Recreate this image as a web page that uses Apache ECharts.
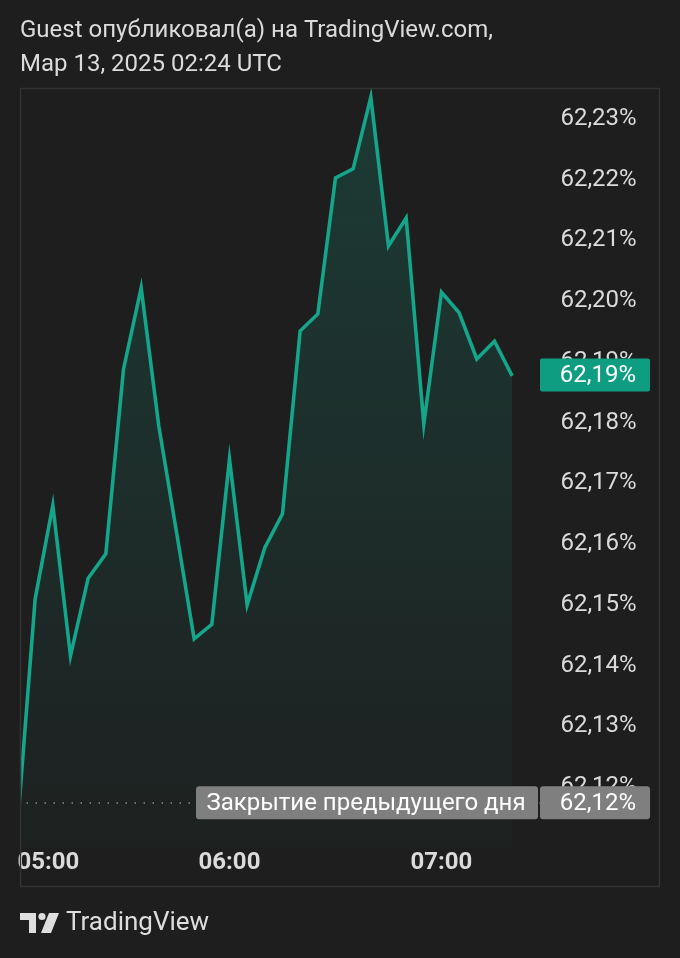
<!DOCTYPE html>
<html>
<head>
<meta charset="utf-8">
<script src="https://cdn.jsdelivr.net/npm/echarts@6/dist/echarts.min.js"></script>
<style>
html,body{margin:0;padding:0;background:#1e1e1e;}
#c{width:680px;height:958px;}
</style>
</head>
<body>
<div id="c"></div>
<script>
// minutes after 05:00 UTC
const minutes = [0,5,10,15,20,25,30,35,40,45,50,55,60,65,70,75,80,85,90,95,100,105,110,115,120,125,130,135,140];
const values = [62.1136,62.1510,62.1664,62.1416,62.1544,62.1584,62.1888,62.2022,62.1794,62.1620,62.1444,62.1468,62.1740,62.1500,62.1594,62.1650,62.1951,62.1979,62.2203,62.2218,62.2336,62.2091,62.2137,62.1798,62.2015,62.1981,62.1905,62.1934,62.1877];
const timeTicks = [0, 60, 120];
const timeLabels = ['05:00', '06:00', '07:00'];
const prevClose = 62.1174;
const prevCloseLabel = 'Закрытие предыдущего дня';
const titleLines = ['Guest опубликовал(а) на TradingView.com,', 'Мар 13, 2025 02:24 UTC'];

const BG = '#1e1e1e';
const TXT = '#dbdbdb';
const GREEN = '#14a58a';
const FONT = 'Roboto';

function fmtPct(v) { return v.toFixed(2).replace('.', ',') + '%'; }

const chart = echarts.init(document.getElementById('c'), null, {renderer: 'canvas'});
const data = minutes.map((m, i) => [m, values[i]]);

chart.setOption({
  backgroundColor: BG,
  animation: false,
  title: {
    text: titleLines.join('\n'),
    left: 20, top: 14, padding: 0,
    textStyle: {color: TXT, fontFamily: FONT, fontSize: 24, fontWeight: 'normal', lineHeight: 34}
  },
  grid: {left: 17.5, right: 139.6, top: 58.3, bottom: 110.2},
  xAxis: {
    type: 'value', min: 0, max: 148, interval: 60,
    axisLine: {show: false}, axisTick: {show: false}, splitLine: {show: false},
    axisLabel: {
      color: TXT, fontFamily: FONT, fontSize: 24, fontWeight: 'bold', margin: 3,
      alignMinLabel: 'left', showMaxLabel: false,
      formatter: v => { const i = timeTicks.indexOf(v); return i >= 0 ? timeLabels[i] : ''; }
    }
  },
  yAxis: {
    type: 'value', position: 'right', min: 62.11, max: 62.24, interval: 0.01,
    axisLine: {show: false}, axisTick: {show: false}, splitLine: {show: false},
    axisLabel: {
      color: TXT, fontFamily: FONT, fontSize: 24, margin: 20,
      formatter: v => (v < 62.115 || v > 62.235) ? '' : fmtPct(v)
    }
  },
  series: [{
    type: 'line', data: data, symbol: 'none', z: 3,
    lineStyle: {color: GREEN, width: 3.6, join: 'miter'},
    areaStyle: {
      origin: 'start',
      color: new echarts.graphic.LinearGradient(0, 0, 0, 1, [
        {offset: 0, color: 'rgba(20,165,138,0.30)'},
        {offset: 1, color: 'rgba(20,165,138,0.03)'}
      ])
    },
    markLine: {
      silent: true, symbol: 'none', label: {show: false}, precision: 4,
      lineStyle: {color: '#8a8a8a', type: [1.5, 7.5], width: 1.5},
      data: [{yAxis: prevClose}]
    }
  }]
});

const lastVal = values[values.length - 1];
const yLast = chart.convertToPixel({yAxisIndex: 0}, lastVal);
const yPrev = chart.convertToPixel({yAxisIndex: 0}, prevClose);
const bh = 33;

chart.setOption({
  graphic: [
    {type: 'rect', z: 50, shape: {x: 0, y: 88, width: 20.5, height: 760}, style: {fill: BG}},
    {type: 'rect', z: 60, shape: {x: 20.5, y: 88.5, width: 639, height: 798}, style: {fill: 'none', stroke: '#333333', lineWidth: 1.5}},
    // last value badge
    {type: 'rect', z: 70, shape: {x: 540, y: yLast - bh / 2 - 1, width: 110, height: bh, r: 2}, style: {fill: '#0f9d82'}},
    {type: 'text', z: 71, x: 636, y: yLast, style: {text: fmtPct(lastVal), fill: '#ffffff', font: '24px ' + FONT, textAlign: 'right', textVerticalAlign: 'middle'}},
    // prev close badges
    {type: 'rect', z: 70, shape: {x: 196, y: yPrev - bh / 2, width: 342, height: bh, r: 3}, style: {fill: '#7f7f7f'}},
    {type: 'text', z: 71, x: 366, y: yPrev + 1, style: {text: prevCloseLabel, fill: '#ffffff', font: '24px ' + FONT, textAlign: 'center', textVerticalAlign: 'middle'}},
    {type: 'rect', z: 70, shape: {x: 540, y: yPrev - bh / 2, width: 110, height: bh, r: 3}, style: {fill: '#7f7f7f'}},
    {type: 'text', z: 71, x: 636, y: yPrev + 1, style: {text: fmtPct(prevClose), fill: '#ffffff', font: '24px ' + FONT, textAlign: 'right', textVerticalAlign: 'middle'}},
    // TradingView logo
    {type: 'polygon', z: 70, shape: {points: [[20, 913], [36, 913], [36, 933], [29, 933], [29, 920], [20, 920]]}, style: {fill: '#dedede'}},
    {type: 'circle', z: 70, shape: {cx: 42, cy: 916.5, r: 3.6}, style: {fill: '#dedede'}},
    {type: 'polygon', z: 70, shape: {points: [[49, 913], [59, 913], [51, 933], [41, 933]]}, style: {fill: '#dedede'}},
    {type: 'text', z: 70, x: 66, y: 923, style: {text: 'TradingView', fill: '#dedede', font: '26px ' + FONT, textVerticalAlign: 'middle'}}
  ]
});
</script>
</body>
</html>
